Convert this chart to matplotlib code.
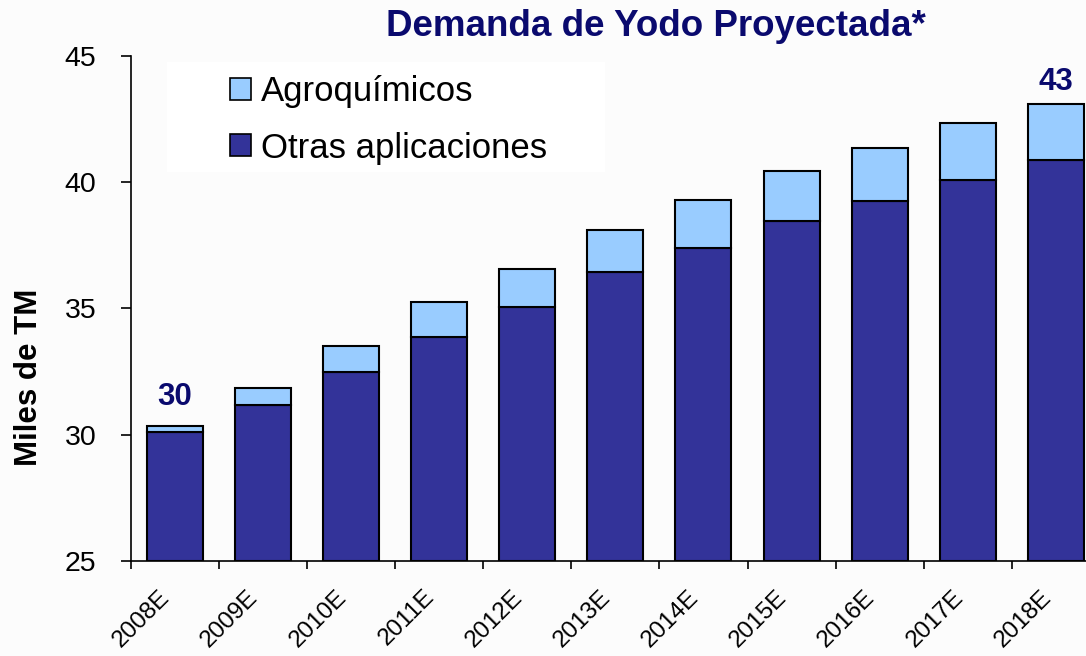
import matplotlib.pyplot as plt
from matplotlib.ticker import FixedLocator
from matplotlib.patches import Rectangle
import numpy as np

plt.rcParams['font.family'] = ['Liberation Sans', 'DejaVu Sans']

# Data
years = ['2008E', '2009E', '2010E', '2011E', '2012E', '2013E',
         '2014E', '2015E', '2016E', '2017E', '2018E']
otras = [30.10, 31.19, 32.50, 33.85, 35.05, 36.45, 37.40, 38.45, 39.26, 40.10, 40.89]
total = [30.36, 31.85, 33.50, 35.25, 36.55, 38.10, 39.28, 40.45, 41.34, 42.33, 43.10]
agro = [t - o for t, o in zip(total, otras)]
labels_top = {0: '30', 10: '43'}

navy = '#0A0A6E'
dark = '#333399'
light = '#99CCFF'

fig = plt.figure(figsize=(10.86, 6.56), dpi=100, facecolor='#FCFCFC')
ax = fig.add_axes([0.1203, 0.1448, 0.8926, 0.770])
ax.set_facecolor('#FCFCFC')

x = np.arange(len(years))
base = 25
ax.bar(x, [o - base for o in otras], bottom=base, width=0.636, color=dark,
       edgecolor='black', linewidth=1.5, label='Otras aplicaciones', zorder=2)
ax.bar(x, agro, bottom=otras, width=0.636, color=light,
       edgecolor='black', linewidth=1.5, label='Agroquímicos', zorder=2)

# value labels above first and last bar
gaps = {0: 10, 10: 5}
for i, txt in labels_top.items():
    ax.annotate(txt, (x[i], total[i]), xytext=(0, gaps[i]), textcoords='offset points',
                ha='center', va='bottom', fontsize=22.5, fontweight='bold', color=navy)

ax.set_xlim(-0.5, len(years) - 0.5)
ax.set_ylim(25, 45)
ax.set_yticks([25, 30, 35, 40, 45])
ax.tick_params(axis='y', labelsize=20.5, length=7.5, width=1.2, direction='out', pad=17)
# rotated labels end a little left of the bar centre, as in the original
ax.set_xticks(x - 0.18)
ax.set_xticklabels(years, rotation=45, ha='right', va='top',
                   rotation_mode='anchor', fontsize=17.5)
ax.tick_params(axis='x', which='major', length=0, pad=18)
ax.xaxis.set_minor_locator(FixedLocator(np.arange(-0.5, len(years), 1)))
ax.tick_params(axis='x', which='minor', length=6, width=1.2, direction='out')

for s in ['top', 'right']:
    ax.spines[s].set_visible(False)
for s in ['left', 'bottom']:
    ax.spines[s].set_linewidth(1.2)

fig.text(29.5 / 1086, 1 - 377 / 656, 'Miles de TM', rotation=90, ha='center', va='center',
         fontsize=22.5, fontweight='bold')

# legend with white background box
fig.patches.append(Rectangle((0.1538, 0.7378), 0.4033, 0.1677, transform=fig.transFigure,
                             facecolor='white', edgecolor='none', zorder=3))
handles, lbls = ax.get_legend_handles_labels()
leg = fig.legend(handles[::-1], lbls[::-1], loc='upper left',
                 bbox_to_anchor=(230 / 1086, 1 - 75 / 656),
                 fontsize=25, frameon=False,
                 handlelength=0.6, handleheight=0.6, handletextpad=0.3,
                 labelspacing=0.68, borderpad=0, borderaxespad=0)
leg.set_zorder(4)
for h in leg.legend_handles:
    h.set_linewidth(1.2)

fig.text(656 / 1086, 1 - 26 / 656, 'Demanda de Yodo Proyectada*', ha='center', va='center',
         fontsize=26.5, fontweight='bold', color=navy)

fig.savefig('out.png', dpi=100, facecolor=fig.get_facecolor())
